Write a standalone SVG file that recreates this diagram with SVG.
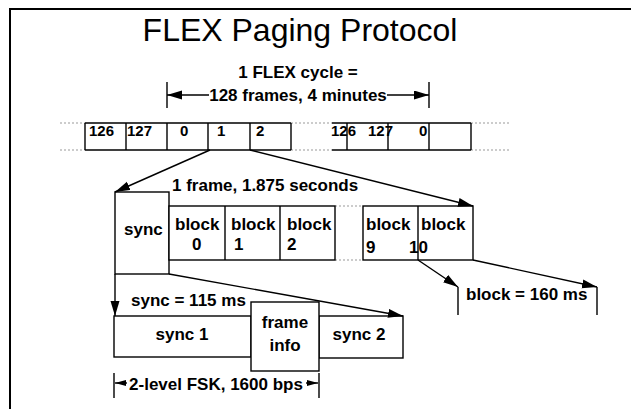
<svg xmlns="http://www.w3.org/2000/svg" width="631" height="409" viewBox="0 0 631 409">
<style>
.ln{stroke:#000;stroke-width:1.4;fill:none}
.bx{stroke:#000;stroke-width:1.4;fill:#fff}
.dot{stroke:#999;stroke-width:1;stroke-dasharray:2 2;fill:none}
.t{font-family:"Liberation Sans",Arial,sans-serif;font-weight:bold;font-size:17px;fill:#000}
.fn{font-family:"Liberation Sans",Arial,sans-serif;font-weight:bold;font-size:15px;fill:#000}
.ttl{font-family:"Liberation Sans",Arial,sans-serif;font-size:32px;fill:#000}
</style>
<defs>
<marker id="ah" markerUnits="userSpaceOnUse" markerWidth="16" markerHeight="10" refX="15" refY="4.5" orient="auto">
<path d="M0,0 L15,4.5 L0,9 z" fill="#000"/>
</marker>
<marker id="ahs" markerUnits="userSpaceOnUse" markerWidth="12" markerHeight="8" refX="11" refY="3" orient="auto">
<path d="M0,0 L11,3 L0,6 z" fill="#000"/>
</marker>
</defs>
<rect width="631" height="409" fill="#fff"/>
<path d="M10,409 V9 H631" stroke="#000" stroke-width="2" fill="none"/>
<text class="ttl" x="300" y="41" text-anchor="middle">FLEX Paging Protocol</text>

<g id="cycle-label">
<text class="t" x="298" y="78" text-anchor="middle">1 FLEX cycle =</text>
<text class="t" x="298" y="101" text-anchor="middle">128 frames, 4 minutes</text>
</g>

<g id="frame-row">
<path class="dot" d="M60,123 H85 M60,150 H85 M291,123 H332 M291,150 H332 M471,123 H510 M471,150 H510"/>
<path class="ln" d="M85,123 H291 M85,150 H291 M332,123 H471 M332,150 H471 M85,123 V150 M126,123 V150 M167,123 V150 M208,123 V150 M250,123 V150 M291,123 V150 M347,123 V150 M388,123 V150 M429,123 V150 M471,123 V150"/>
<text class="fn" x="89" y="136">126</text>
<text class="fn" x="127" y="136">127</text>
<text class="fn" x="180" y="136">0</text>
<text class="fn" x="217" y="136">1</text>
<text class="fn" x="256" y="136">2</text>
<text class="fn" x="331" y="136">126</text>
<text class="fn" x="368" y="136">127</text>
<text class="fn" x="419" y="136">0</text>
</g>

<g id="frame">
<text class="t" x="172" y="191">1 frame, 1.875 seconds</text>
<rect class="bx" x="115" y="192" width="54" height="82"/>
<text class="t" x="124" y="235">sync</text>
<path class="dot" d="M335,206 H363 M335,260 H363"/>
<rect class="bx" x="169" y="206" width="166" height="54"/>
<path class="ln" d="M225,206 V260 M280,206 V260"/>
<text class="t" x="175" y="230">block</text>
<text class="t" x="192" y="250">0</text>
<text class="t" x="231" y="230">block</text>
<text class="t" x="234" y="250">1</text>
<text class="t" x="287" y="230">block</text>
<text class="t" x="287" y="250">2</text>
<rect class="bx" x="363" y="206" width="110" height="54"/>
<path class="ln" d="M418,206 V260"/>
<text class="t" x="366" y="230">block</text>
<text class="t" x="366" y="253">9</text>
<text class="t" x="421" y="230">block</text>
<text class="t" x="409" y="253">10</text>
</g>

<g id="block-size">
<path class="ln" d="M458,287 V315 M597,287 V315"/>
<text class="t" x="466" y="300">block = 160 ms</text>
</g>

<g id="sync">
<text class="t" x="131" y="306">sync = 115 ms</text>
<rect class="bx" x="114" y="316" width="137" height="41"/>
<rect class="bx" x="319" y="316" width="84" height="42"/>
<rect class="bx" x="251" y="302" width="68" height="69"/>
<text class="t" x="182" y="340" text-anchor="middle">sync 1</text>
<text class="t" x="285" y="328" text-anchor="middle">frame</text>
<text class="t" x="285" y="351" text-anchor="middle">info</text>
<text class="t" x="359" y="340" text-anchor="middle">sync 2</text>
</g>

<g id="fsk">
<path class="ln" d="M114,373 V398 M319,373 V398"/>
<text class="t" x="216" y="390" text-anchor="middle">2-level FSK, 1600 bps</text>
</g>

<g id="connectors">
<path class="ln" d="M167,82 V108 M429,82 V108"/>
<line class="ln" x1="209" y1="95" x2="167" y2="95" marker-end="url(#ah)"/>
<line class="ln" x1="387" y1="95" x2="429" y2="95" marker-end="url(#ah)"/>
<line class="ln" x1="210" y1="150" x2="115" y2="192" marker-end="url(#ah)"/>
<line class="ln" x1="250" y1="150" x2="473" y2="206" marker-end="url(#ah)"/>
<line class="ln" x1="418" y1="260" x2="458" y2="287" marker-end="url(#ah)"/>
<line class="ln" x1="473" y1="260" x2="597" y2="287" marker-end="url(#ah)"/>
<line class="ln" x1="115" y1="274" x2="115" y2="316" marker-end="url(#ah)"/>
<line class="ln" x1="169" y1="274" x2="403" y2="316" marker-end="url(#ah)"/>
<line class="ln" x1="127" y1="383" x2="115" y2="383" marker-end="url(#ahs)"/>
<line class="ln" x1="306" y1="383" x2="318" y2="383" marker-end="url(#ahs)"/>
</g>
</svg>
